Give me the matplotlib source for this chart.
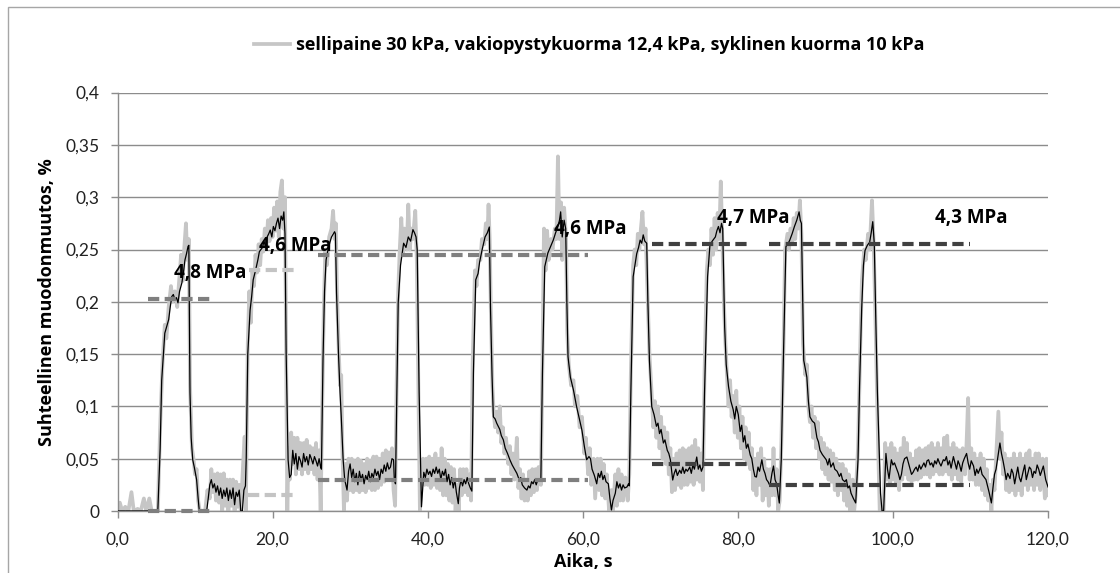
import matplotlib
matplotlib.use("Agg")
import matplotlib.pyplot as plt
from matplotlib.patches import Rectangle

plt.rcParams['font.family'] = ['Lato', 'DejaVu Sans']

# ---------------- data ----------------
black_t = [0.0, 1.5, 5.2, 5.5, 5.7, 6.1, 6.4, 6.6, 6.8, 7.0, 7.2, 7.4, 7.6, 7.8, 8.0, 8.3, 8.5, 8.7, 8.9, 9.1, 9.2,
           9.35, 9.5, 9.7, 9.9, 10.2, 10.4, 10.55, 11.5, 11.7, 11.9, 12.1, 12.3, 12.5, 12.7, 12.9, 13.1, 13.3, 13.5,
           13.7, 13.9, 14.1, 14.3, 14.5, 14.7, 14.9, 15.1, 15.3, 15.5, 15.7, 15.9, 16.1, 16.3, 16.5, 16.6, 16.8, 17.1,
           17.3, 17.5, 17.8, 18.1, 18.3, 18.5, 18.7, 18.9, 19.1, 19.3, 19.5, 19.7, 19.9, 20.1, 20.3, 20.5, 20.7, 20.9,
           21.1, 21.3, 21.45, 21.6, 21.75, 22.0, 22.2, 22.4, 22.6, 22.8, 23.0, 23.2, 23.4, 23.6, 23.8, 24.0, 24.2,
           24.4, 24.6, 24.8, 25.0, 25.2, 25.4, 25.6, 25.8, 26.0, 26.2, 26.3, 26.5, 26.7, 26.9, 27.2, 27.6, 28.0, 28.1,
           28.25, 28.5, 28.7, 28.85, 29.1, 29.3, 29.6, 29.8, 30.0, 30.2, 30.4, 30.6, 30.8, 31.0, 31.2, 31.4, 31.6,
           31.8, 32.0, 32.2, 32.4, 32.6, 32.8, 33.0, 33.2, 33.4, 33.6, 33.8, 34.0, 34.2, 34.4, 34.6, 34.8, 35.0, 35.2,
           35.4, 35.6, 35.7, 35.85, 36.0, 36.2, 36.5, 36.9, 37.2, 37.5, 37.8, 38.1, 38.3, 38.5, 38.65, 38.9, 39.2,
           39.5, 39.7, 39.9, 40.1, 40.3, 40.5, 40.7, 40.9, 41.1, 41.3, 41.5, 41.7, 41.9, 42.1, 42.3, 42.5, 42.7, 42.9,
           43.1, 43.3, 43.5, 43.7, 43.95, 44.1, 44.3, 44.5, 44.7, 44.9, 45.1, 45.3, 45.5, 45.7, 45.9, 46.2, 46.5,
           46.7, 47.0, 47.4, 47.7, 47.95, 48.1, 48.3, 48.47, 48.7, 48.9, 49.1, 49.3, 49.5, 49.76, 50.0, 50.3, 50.6,
           50.9, 51.2, 51.5, 51.8, 52.0, 52.2, 52.5, 52.8, 53.0, 53.2, 53.4, 53.6, 53.8, 54.0, 54.2, 54.5, 54.6, 54.8,
           55.1, 55.3, 55.5, 55.8, 56.2, 56.5, 56.8, 57.0, 57.15, 57.35, 57.6, 57.8, 57.95, 58.1, 58.4, 58.8, 59.2,
           59.5, 59.9, 60.2, 60.5, 60.8, 61.0, 61.2, 61.5, 61.8, 62.0, 62.2, 62.4, 62.6, 62.8, 63.0, 63.3, 63.5, 63.7,
           63.9, 64.2, 64.4, 64.6, 64.8, 65.0, 65.2, 65.4, 65.7, 65.9, 66.0, 66.2, 66.5, 66.96, 67.2, 67.4, 67.6,
           67.8, 68.0, 68.25, 68.4, 68.6, 68.9, 69.2, 69.5, 69.7, 69.9, 70.1, 70.4, 70.6, 70.9, 71.1, 71.3, 71.6,
           71.8, 72.0, 72.2, 72.5, 72.7, 72.9, 73.1, 73.3, 73.5, 73.8, 74.0, 74.2, 74.4, 74.7, 74.9, 75.1, 75.3, 75.5,
           75.7, 76.1, 76.4, 76.7, 77.1, 77.3, 77.5, 77.7, 77.9, 78.05, 78.3, 78.5, 78.8, 79.1, 79.4, 79.6, 79.8,
           80.06, 80.3, 80.5, 80.7, 80.9, 81.1, 81.3, 81.6, 81.8, 82.0, 82.2, 82.4, 82.6, 82.8, 83.1, 83.3, 83.5,
           83.7, 83.9, 84.15, 84.4, 84.6, 84.8, 85.0, 85.2, 85.35, 85.6, 85.87, 86.2, 86.5, 86.7, 87.0, 87.3, 87.6,
           87.9, 88.05, 88.2, 88.5, 88.9, 89.1, 89.3, 89.6, 89.9, 90.2, 90.4, 90.6, 90.9, 91.1, 91.4, 91.6, 91.8,
           92.0, 92.3, 92.5, 92.8, 93.1, 93.3, 93.5, 93.8, 94.0, 94.2, 94.4, 94.6, 94.9, 95.2, 95.5, 95.7, 95.97,
           96.2, 96.4, 96.7, 97.0, 97.2, 97.4, 97.6, 97.8, 98.0, 98.4, 98.6, 98.8, 99.1, 99.3, 99.5, 99.8, 100.0,
           100.2, 100.5, 100.7, 100.9, 101.1, 101.3, 101.5, 101.8, 102.0, 102.2, 102.4, 102.6, 102.8, 103.0, 103.2,
           103.4, 103.6, 103.8, 104.0, 104.2, 104.4, 104.6, 104.8, 105.0, 105.2, 105.4, 105.6, 105.8, 106.0, 106.2,
           106.5, 106.7, 106.9, 107.1, 107.3, 107.5, 107.8, 108.0, 108.2, 108.4, 108.6, 108.8, 109.0, 109.2, 109.5,
           109.7, 109.9, 110.1, 110.4, 110.6, 110.8, 111.0, 111.3, 111.5, 111.7, 112.0, 112.2, 112.4, 112.7, 112.9,
           113.1, 113.3, 113.5, 113.8, 114.0, 114.2, 114.4, 114.6, 114.8, 115.1, 115.3, 115.5, 115.7, 115.9, 116.1,
           116.3, 116.5, 116.8, 117.0, 117.2, 117.4, 117.6, 117.8, 118.0, 118.2, 118.4, 118.6, 118.8, 119.0, 119.4,
           119.7, 120.0]
black_y = [0.0, 0.0, 0.0, 0.06, 0.125, 0.170, 0.178, 0.183, 0.195, 0.205, 0.207, 0.202, 0.204, 0.199, 0.210, 0.218,
           0.228, 0.240, 0.246, 0.253, 0.254,
           0.113, 0.07, 0.049, 0.042, 0.030, 0.012, 0.0, 0.0, 0.012, 0.025, 0.030, 0.022, 0.026, 0.018, 0.024, 0.015,
           0.022, 0.012, 0.020, 0.014, 0.022, 0.010, 0.020, 0.012, 0.022, 0.006, 0.018, 0.014, 0.020, 0.0, 0.0,
           0.020, 0.024, 0.05, 0.15, 0.192, 0.205, 0.221, 0.230, 0.240, 0.248, 0.250, 0.252, 0.258, 0.252, 0.262,
           0.265, 0.2686, 0.262, 0.272, 0.268, 0.275, 0.280, 0.270, 0.282, 0.278, 0.286, 0.265, 0.15, 0.049, 0.032,
           0.035, 0.058, 0.045, 0.055, 0.040, 0.052, 0.048, 0.042, 0.055, 0.047, 0.052, 0.044, 0.054, 0.050, 0.045,
           0.052, 0.048, 0.043, 0.050, 0.042, 0.040, 0.144, 0.21, 0.240, 0.252, 0.262, 0.267, 0.265, 0.208, 0.150,
           0.113, 0.091, 0.049, 0.030, 0.020, 0.038, 0.045, 0.032, 0.040, 0.028, 0.036, 0.025, 0.038, 0.030, 0.035,
           0.026, 0.034, 0.030, 0.038, 0.028, 0.036, 0.032, 0.040, 0.034, 0.038, 0.030, 0.040, 0.036, 0.044, 0.038,
           0.046, 0.040, 0.042, 0.050, 0.049, 0.030, 0.026, 0.10, 0.199, 0.235, 0.256, 0.252, 0.262, 0.258, 0.269,
           0.266, 0.262, 0.25, 0.113, 0.004, 0.037, 0.032, 0.040, 0.035, 0.038, 0.033, 0.040, 0.036, 0.042, 0.036,
           0.040, 0.030, 0.038, 0.034, 0.040, 0.028, 0.035, 0.025, 0.032, 0.022, 0.030, 0.018, 0.007, 0.022, 0.030,
           0.024, 0.030, 0.026, 0.032, 0.026, 0.022, 0.019, 0.132, 0.221, 0.227, 0.238, 0.249, 0.262, 0.266, 0.2715,
           0.195, 0.13, 0.090, 0.088, 0.084, 0.081, 0.078, 0.072, 0.068, 0.060, 0.055, 0.049, 0.044, 0.040, 0.036,
           0.030, 0.032, 0.025, 0.022, 0.020, 0.024, 0.022, 0.028, 0.026, 0.030, 0.025, 0.030, 0.029, 0.031, 0.132,
           0.2336, 0.240, 0.2466, 0.252, 0.259, 0.266, 0.272, 0.278, 0.286, 0.262, 0.278, 0.270, 0.20, 0.1475, 0.128,
           0.1157, 0.100, 0.090, 0.077, 0.062, 0.049, 0.052, 0.050, 0.040, 0.034, 0.026, 0.036, 0.032, 0.038, 0.030,
           0.034, 0.028, 0.026, 0.012, 0.001, 0.010, 0.017, 0.028, 0.022, 0.026, 0.020, 0.025, 0.022, 0.023, 0.026,
           0.024, 0.112, 0.224, 0.246, 0.252, 0.259, 0.256, 0.264, 0.258, 0.256, 0.20, 0.144, 0.0997, 0.092, 0.081,
           0.084, 0.074, 0.078, 0.065, 0.068, 0.058, 0.055, 0.049, 0.0296, 0.036, 0.040, 0.034, 0.039, 0.036, 0.042,
           0.036, 0.040, 0.038, 0.042, 0.036, 0.044, 0.040, 0.0516, 0.040, 0.044, 0.038, 0.042, 0.112, 0.224, 0.254,
           0.258, 0.262, 0.268, 0.272, 0.266, 0.275, 0.27, 0.176, 0.14, 0.119, 0.105, 0.097, 0.088, 0.100, 0.092,
           0.076, 0.082, 0.066, 0.072, 0.060, 0.064, 0.0535, 0.050, 0.040, 0.033, 0.0325, 0.042, 0.038, 0.049, 0.040,
           0.036, 0.030, 0.028, 0.024, 0.036, 0.043, 0.030, 0.026, 0.015, 0.0076, 0.049, 0.144, 0.2527, 0.256, 0.259,
           0.265, 0.272, 0.278, 0.286, 0.278, 0.275, 0.144, 0.128, 0.105, 0.090, 0.086, 0.084, 0.070, 0.066, 0.058,
           0.054, 0.052, 0.049, 0.044, 0.050, 0.042, 0.046, 0.040, 0.038, 0.033, 0.036, 0.030, 0.028, 0.030, 0.022,
           0.024, 0.017, 0.012, 0.0077, 0.049, 0.12, 0.193, 0.235, 0.249, 0.254, 0.257, 0.266, 0.2766, 0.255, 0.18,
           0.113, 0.017, 0.0, 0.0, 0.055, 0.040, 0.031, 0.049, 0.044, 0.046, 0.040, 0.036, 0.030, 0.035, 0.045,
           0.050, 0.0516, 0.046, 0.040, 0.035, 0.037, 0.040, 0.042, 0.038, 0.044, 0.040, 0.043, 0.046, 0.042, 0.048,
           0.049, 0.044, 0.046, 0.042, 0.048, 0.045, 0.050, 0.046, 0.043, 0.049, 0.048, 0.052, 0.044, 0.048, 0.041,
           0.052, 0.046, 0.040, 0.048, 0.044, 0.038, 0.046, 0.050, 0.055, 0.046, 0.040, 0.048, 0.043, 0.034, 0.040,
           0.036, 0.042, 0.035, 0.033, 0.030, 0.024, 0.018, 0.0077, 0.022, 0.035, 0.040, 0.050, 0.065, 0.055, 0.048,
           0.040, 0.030, 0.036, 0.031, 0.040, 0.036, 0.026, 0.034, 0.042, 0.032, 0.028, 0.038, 0.044, 0.030, 0.036,
           0.042, 0.040, 0.032, 0.038, 0.036, 0.044, 0.040, 0.034, 0.043, 0.030, 0.023]

grey_t = [0.0, 0.3, 0.6, 1.0, 1.4, 1.8, 2.1, 2.6, 3.0, 3.4, 3.7, 4.1, 4.4, 5.2, 5.5, 5.8, 6.1, 6.3, 6.6, 6.9, 7.1,
          7.4, 7.7, 8.0, 8.2, 8.4, 8.6, 8.83, 9.0, 9.2, 9.35, 9.6, 9.8, 10.0, 10.2, 10.4, 10.6, 11.3, 11.6, 11.9,
          12.1, 12.3, 12.5, 12.7, 12.9, 13.1, 13.3, 13.5, 13.7, 13.9, 14.1, 14.3, 14.5, 14.7, 14.9, 15.1, 15.3, 15.5,
          15.7, 15.9, 16.2, 16.4, 16.55, 16.8, 17.0, 17.2, 17.4, 17.6, 17.8, 18.0, 18.2, 18.4, 18.6, 18.8, 19.0,
          19.2, 19.4, 19.6, 19.8, 20.0, 20.2, 20.4, 20.6, 20.8, 21.0, 21.2, 21.4, 21.6, 21.75, 21.9, 22.05, 22.2,
          22.4, 22.6, 22.8, 23.0, 23.2, 23.4, 23.6, 23.8, 24.0, 24.2, 24.4, 24.6, 24.8, 25.0, 25.2, 25.4, 25.6,
          25.8, 26.0, 26.2, 26.4, 26.6, 26.8, 27.0, 27.3, 27.6, 27.8, 28.0, 28.15, 28.3, 28.5, 28.7, 28.85, 29.0,
          29.2, 29.4, 29.6, 29.8, 30.0, 30.2, 30.4, 30.6, 30.8, 31.0, 31.2, 31.4, 31.6, 31.8, 32.0, 32.2, 32.4,
          32.6, 32.8, 33.0, 33.2, 33.4, 33.6, 33.8, 34.0, 34.2, 34.4, 34.6, 34.8, 35.0, 35.2, 35.4, 35.6, 35.8,
          36.0, 36.2, 36.4, 36.6, 36.8, 37.0, 37.3, 37.5, 37.7, 37.9, 38.1, 38.4, 38.6, 38.8, 39.0, 39.2, 39.4,
          39.6, 39.8, 40.0, 40.2, 40.4, 40.6, 40.8, 41.0, 41.2, 41.4, 41.6, 41.8, 42.0, 42.2, 42.4, 42.6, 42.8,
          43.0, 43.2, 43.4, 43.6, 43.8, 44.0, 44.2, 44.4, 44.6, 44.8, 45.0, 45.2, 45.4, 45.6, 45.8, 46.1, 46.3,
          46.5, 46.8, 47.0, 47.3, 47.5, 47.7, 47.85, 48.0, 48.15, 48.35, 48.5, 48.7, 48.9, 49.1, 49.3, 49.5, 49.7,
          49.9, 50.1, 50.4, 50.6, 50.8, 51.0, 51.2, 51.5, 51.7, 51.9, 52.1, 52.3, 52.5, 52.7, 52.9, 53.1, 53.3,
          53.5, 53.7, 53.9, 54.1, 54.3, 54.6, 54.8, 55.0, 55.2, 55.4, 55.6, 55.9, 56.1, 56.4, 56.6, 56.8, 57.0,
          57.2, 57.35, 57.6, 57.85, 58.0, 58.2, 58.5, 58.8, 59.0, 59.3, 59.6, 59.9, 60.2, 60.4, 60.7, 60.9, 61.1,
          61.4, 61.6, 61.9, 62.1, 62.3, 62.5, 62.7, 62.9, 63.1, 63.4, 63.7, 63.9, 64.2, 64.4, 64.6, 64.8, 65.0,
          65.2, 65.5, 65.8, 66.0, 66.2, 66.5, 66.7, 66.9, 67.1, 67.3, 67.5, 67.7, 67.9, 68.1, 68.3, 68.6, 68.9,
          69.1, 69.3, 69.5, 69.7, 69.9, 70.1, 70.3, 70.5, 70.7, 70.9, 71.1, 71.3, 71.5, 71.7, 71.9, 72.1, 72.3,
          72.5, 72.7, 72.9, 73.1, 73.3, 73.5, 73.7, 73.9, 74.1, 74.3, 74.5, 74.7, 74.9, 75.1, 75.3, 75.5, 75.7,
          76.0, 76.2, 76.4, 76.6, 76.8, 77.0, 77.2, 77.4, 77.6, 77.8, 78.0, 78.2, 78.4, 78.6, 78.8, 79.0, 79.2,
          79.4, 79.6, 79.8, 80.0, 80.2, 80.4, 80.6, 80.8, 81.0, 81.2, 81.4, 81.6, 81.8, 82.0, 82.2, 82.4, 82.6,
          82.8, 83.0, 83.2, 83.4, 83.6, 83.8, 84.0, 84.2, 84.4, 84.6, 84.8, 85.0, 85.2, 85.4, 85.6, 85.9, 86.1,
          86.4, 86.6, 86.8, 87.0, 87.2, 87.4, 87.6, 87.8, 88.0, 88.2, 88.4, 88.7, 88.9, 89.1, 89.3, 89.5, 89.7,
          89.9, 90.1, 90.3, 90.5, 90.7, 90.9, 91.1, 91.3, 91.5, 91.7, 91.9, 92.1, 92.3, 92.5, 92.7, 92.9, 93.1,
          93.3, 93.5, 93.7, 93.9, 94.1, 94.3, 94.5, 94.8, 95.0, 95.2, 95.5, 95.8, 96.0, 96.3, 96.5, 96.8, 97.0,
          97.3, 97.5, 97.7, 97.9, 98.1, 98.3, 98.8, 99.0, 99.2, 99.4, 99.6, 99.8, 100.0, 100.2, 100.4, 100.6,
          100.8, 101.0, 101.2, 101.4, 101.6, 101.8, 102.0, 102.2, 102.4, 102.6, 102.8, 103.0, 103.2, 103.4, 103.6,
          103.8, 104.0, 104.2, 104.4, 104.6, 104.8, 105.0, 105.2, 105.4, 105.6, 105.8, 106.0, 106.2, 106.4, 106.6,
          106.8, 107.0, 107.2, 107.4, 107.6, 107.8, 108.0, 108.2, 108.4, 108.6, 108.8, 109.0, 109.3, 109.5, 109.7,
          109.9, 110.1, 110.3, 110.5, 110.7, 110.9, 111.1, 111.3, 111.5, 111.7, 111.9, 112.1, 112.3, 112.5, 112.7,
          112.9, 113.1, 113.3, 113.6, 113.8, 114.0, 114.2, 114.4, 114.6, 114.8, 115.0, 115.2, 115.4, 115.6, 115.8,
          116.0, 116.2, 116.4, 116.6, 116.8, 117.0, 117.2, 117.4, 117.6, 117.8, 118.0, 118.2, 118.4, 118.6, 118.8,
          119.0, 119.3, 119.6, 119.8, 120.0]
grey_y = [0.0, 0.008, 0.0, 0.004, 0.0, 0.018, 0.0, 0.002, 0.0, 0.012, 0.0, 0.012, 0.0, 0.0, 0.08, 0.14, 0.178,
          0.165, 0.195, 0.215, 0.2, 0.21, 0.195, 0.225, 0.245, 0.22, 0.25, 0.275, 0.24, 0.26, 0.12, 0.06, 0.05,
          0.035, 0.04, 0.01, 0.0, 0.0, 0.02, 0.012, 0.04, 0.018, 0.035, 0.01, 0.036, 0.008, 0.035, 0.0, 0.036,
          0.005, 0.03, 0.0, 0.03, 0.005, 0.03, 0.0, 0.028, 0.004, 0.025, 0.0, 0.045, 0.071, 0.0, 0.16, 0.21, 0.18,
          0.23, 0.215, 0.245, 0.228, 0.255, 0.235, 0.26, 0.248, 0.27, 0.252, 0.278, 0.258, 0.28, 0.262, 0.29,
          0.268, 0.296, 0.262, 0.305, 0.316, 0.27, 0.3, 0.15, 0.0, 0.06, 0.03, 0.075, 0.045, 0.07, 0.035, 0.07,
          0.04, 0.065, 0.035, 0.065, 0.04, 0.068, 0.036, 0.062, 0.04, 0.06, 0.035, 0.065, 0.03, 0.058, 0.0, 0.1,
          0.19, 0.25, 0.235, 0.262, 0.27, 0.287, 0.26, 0.275, 0.21, 0.16, 0.12, 0.13, 0.06, 0.0, 0.045, 0.01,
          0.05, 0.02, 0.05, 0.018, 0.048, 0.02, 0.05, 0.018, 0.048, 0.02, 0.045, 0.018, 0.05, 0.022, 0.048, 0.02,
          0.052, 0.02, 0.052, 0.022, 0.05, 0.025, 0.055, 0.028, 0.058, 0.03, 0.056, 0.03, 0.06, 0.02, 0.005, 0.12,
          0.21, 0.25, 0.28, 0.245, 0.27, 0.25, 0.293, 0.25, 0.27, 0.26, 0.287, 0.24, 0.12, 0.0, 0.03, 0.05, 0.025,
          0.05, 0.025, 0.052, 0.022, 0.05, 0.025, 0.055, 0.022, 0.05, 0.02, 0.06, 0.015, 0.05, 0.015, 0.045, 0.01,
          0.042, 0.008, 0.04, 0.0, 0.025, 0.0, 0.04, 0.015, 0.04, 0.018, 0.04, 0.015, 0.035, 0.01, 0.14, 0.23,
          0.215, 0.24, 0.24, 0.26, 0.255, 0.275, 0.26, 0.293, 0.26, 0.19, 0.12, 0.095, 0.08, 0.095, 0.075, 0.1,
          0.065, 0.08, 0.055, 0.07, 0.045, 0.062, 0.035, 0.055, 0.03, 0.07, 0.022, 0.04, 0.012, 0.035, 0.01, 0.03,
          0.01, 0.038, 0.015, 0.04, 0.018, 0.04, 0.02, 0.042, 0.025, 0.14, 0.27, 0.23, 0.268, 0.24, 0.26, 0.25,
          0.27, 0.26, 0.339, 0.26, 0.295, 0.24, 0.29, 0.26, 0.17, 0.14, 0.12, 0.125, 0.1, 0.11, 0.08, 0.09, 0.055,
          0.07, 0.035, 0.06, 0.025, 0.05, 0.012, 0.05, 0.02, 0.05, 0.015, 0.045, 0.012, 0.035, 0.0, 0.02, 0.0,
          0.035, 0.005, 0.04, 0.01, 0.035, 0.01, 0.032, 0.01, 0.035, 0.13, 0.235, 0.25, 0.235, 0.265, 0.25, 0.27,
          0.286, 0.255, 0.27, 0.22, 0.15, 0.11, 0.08, 0.105, 0.07, 0.1, 0.06, 0.09, 0.05, 0.08, 0.045, 0.075,
          0.035, 0.06, 0.018, 0.05, 0.02, 0.055, 0.025, 0.058, 0.022, 0.06, 0.025, 0.058, 0.025, 0.06, 0.028,
          0.062, 0.025, 0.068, 0.03, 0.06, 0.028, 0.055, 0.02, 0.13, 0.23, 0.25, 0.235, 0.27, 0.245, 0.28, 0.25,
          0.285, 0.26, 0.315, 0.26, 0.2, 0.16, 0.13, 0.1, 0.125, 0.09, 0.11, 0.075, 0.115, 0.07, 0.1, 0.06, 0.09,
          0.05, 0.08, 0.045, 0.075, 0.04, 0.06, 0.02, 0.05, 0.015, 0.055, 0.025, 0.06, 0.01, 0.05, 0.015, 0.04,
          0.005, 0.04, 0.015, 0.06, 0.015, 0.04, 0.0, 0.01, 0.06, 0.16, 0.25, 0.265, 0.25, 0.27, 0.255, 0.28,
          0.26, 0.285, 0.27, 0.297, 0.265, 0.16, 0.13, 0.14, 0.1, 0.085, 0.1, 0.07, 0.09, 0.06, 0.085, 0.05, 0.07,
          0.04, 0.065, 0.035, 0.06, 0.03, 0.058, 0.028, 0.055, 0.02, 0.05, 0.015, 0.045, 0.02, 0.045, 0.01, 0.04,
          0.005, 0.035, 0.0, 0.03, 0.0, 0.015, 0.06, 0.16, 0.22, 0.25, 0.24, 0.265, 0.25, 0.297, 0.26, 0.2, 0.13,
          0.06, 0.0, 0.0, 0.065, 0.03, 0.06, 0.025, 0.065, 0.03, 0.06, 0.025, 0.055, 0.02, 0.06, 0.03, 0.07, 0.035,
          0.065, 0.03, 0.055, 0.028, 0.05, 0.03, 0.058, 0.03, 0.06, 0.032, 0.058, 0.035, 0.06, 0.035, 0.062, 0.032,
          0.065, 0.035, 0.06, 0.038, 0.065, 0.035, 0.06, 0.035, 0.07, 0.038, 0.072, 0.035, 0.06, 0.03, 0.065,
          0.035, 0.06, 0.03, 0.058, 0.028, 0.06, 0.035, 0.065, 0.108, 0.03, 0.06, 0.03, 0.055, 0.025, 0.05, 0.025,
          0.055, 0.02, 0.05, 0.015, 0.04, 0.01, 0.025, 0.0, 0.03, 0.02, 0.05, 0.095, 0.05, 0.075, 0.035, 0.055,
          0.02, 0.05, 0.018, 0.05, 0.02, 0.055, 0.015, 0.05, 0.02, 0.055, 0.015, 0.05, 0.025, 0.055, 0.02, 0.058,
          0.025, 0.05, 0.02, 0.055, 0.025, 0.055, 0.02, 0.05, 0.012, 0.05, 0.015]

# dashed reference levels (modulus evaluation)
dash_y = [0.203, 0.0, 0.230, 0.015, 0.245, 0.030, 0.255, 0.045, 0.255, 0.025]
dash_x0 = [3.9, 3.9, 17.0, 16.8, 25.8, 25.8, 68.9, 68.9, 84.0, 84.0]
dash_x1 = [12.0, 12.0, 23.0, 23.0, 60.7, 60.7, 81.4, 81.4, 110.0, 110.0]
dash_colors = ['#7f7f7f', '#7f7f7f', '#c4c4c4', '#c4c4c4', '#7f7f7f', '#7f7f7f',
               '#404040', '#404040', '#404040', '#404040']

label_text = ['4,8 MPa', '4,6 MPa', '4,6 MPa', '4,7 MPa', '4,3 MPa']
label_x = [11.9, 22.9, 61.0, 82.0, 110.1]
label_y = [0.228, 0.2535, 0.2695, 0.280, 0.280]

series_label = 'sellipaine 30 kPa, vakiopystykuorma 12,4 kPa, syklinen kuorma 10 kPa'
xticks = [0, 20, 40, 60, 80, 100, 120]
xtick_labels = ['0,0', '20,0', '40,0', '60,0', '80,0', '100,0', '120,0']
yticks = [0, 0.05, 0.1, 0.15, 0.2, 0.25, 0.3, 0.35, 0.4]
ytick_labels = ['0', '0,05', '0,1', '0,15', '0,2', '0,25', '0,3', '0,35', '0,4']

# ---------------- figure ----------------
W, H = 1120, 573
fig = plt.figure(figsize=(W / 100, H / 100), dpi=100)
fig.patch.set_facecolor('white')

BOLD = ['Open Sans', 'DejaVu Sans']

# outer chart-area border
fig.patches.append(Rectangle((8 / W, -0.05), 1.2, 1 - 7 / H + 0.05, transform=fig.transFigure,
                             fill=False, edgecolor='#a6a6a6', linewidth=1.0))

ax = fig.add_axes([117.5 / W, 62 / H, (1048 - 117.5) / W, (511 - 92.6) / H])
ax.set_xlim(0, 120)
ax.set_ylim(0, 0.4)

gridc = '#8c8c8c'
ax.set_yticks(yticks)
ax.set_yticklabels(ytick_labels, fontsize=12.5, color='#222222')
ax.set_xticks(xticks)
ax.set_xticklabels(xtick_labels, fontsize=12.5, color='#222222')
ax.yaxis.grid(True, color=gridc, linewidth=1.0)
ax.set_axisbelow(True)
for s in ['top', 'right']:
    ax.spines[s].set_visible(False)
for s in ['left', 'bottom']:
    ax.spines[s].set_color(gridc)
    ax.spines[s].set_linewidth(1.0)
ax.tick_params(axis='both', direction='out', length=5, width=1.0, color=gridc)
ax.tick_params(axis='x', pad=10)
ax.tick_params(axis='y', pad=8)

grey_line, = ax.plot(grey_t, grey_y, color='#c6c6c6', linewidth=2.7, zorder=2,
                     solid_joinstyle='round', label=series_label)
ax.plot(black_t, black_y, color='black', linewidth=0.9, zorder=3)

for y, x0, x1, c in zip(dash_y, dash_x0, dash_x1, dash_colors):
    ax.plot([x0, x1], [y, y], color=c, linewidth=3.0, linestyle=(0, (2.7, 1.3)), zorder=4,
            solid_capstyle='butt', clip_on=False)

for txt, x, y in zip(label_text, label_x, label_y):
    ax.text(x, y, txt, fontsize=13.5, fontweight='bold', family=BOLD,
            ha='center', va='center', zorder=5)

ax.set_xlabel('Aika, s', fontsize=13, fontweight='bold', family=BOLD, labelpad=4)
ax.set_ylabel('Suhteellinen muodonmuutos, %', fontsize=13, fontweight='bold', family=BOLD, labelpad=7)

leg = fig.legend(handles=[grey_line], labels=[series_label], loc='center',
                 bbox_to_anchor=(0.526, 0.921), bbox_transform=fig.transFigure,
                 frameon=False, handlelength=2.0, handletextpad=0.3,
                 prop={'size': 13, 'weight': 'bold', 'family': BOLD})

fig.savefig('out.png', dpi=100)
